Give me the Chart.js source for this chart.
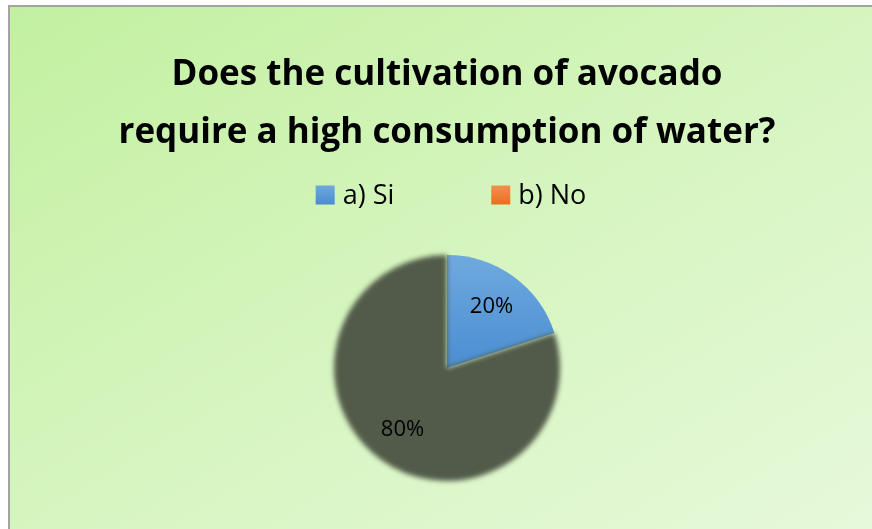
<!DOCTYPE html>
<html>
<head>
<meta charset="utf-8">
<script src="https://cdn.jsdelivr.net/npm/chart.js@4.4.0/dist/chart.umd.min.js"></script>
<style>
  html, body { margin: 0; padding: 0; width: 872px; height: 529px; overflow: hidden; background: #ffffff; }
  #frame {
    position: absolute; left: 8px; top: 5px; width: 900px; height: 540px;
    border-left: 2px solid #a3a3a3; border-top: 2px solid #a3a3a3;
    background: linear-gradient(to bottom right, #c2f0a0 0%, #d6f5c0 50%, #e8f9dc 100%);
  }
  #wrap { position: absolute; left: 0; top: 0; width: 874px; height: 522px; }
</style>
</head>
<body>
<div id="frame">
  <div id="wrap"><canvas id="pieChart"></canvas></div>
</div>
<script>
var titleLines = ['Does the cultivation of avocado', 'require a high consumption of water?'];
var categories = ['a) Si', 'b) No'];
var shares = [20, 80];
var legendColors = ['#5b9bd5', '#ed7d31'];

var FONT = '"Open Sans", Lato, sans-serif';

// blue slice gets a soft vertical gradient
function sliceFill(context) {
    var chart = context.chart;
    var area = chart.chartArea;
    if (!area) return '#5b9bd5';
    if (context.dataIndex === 0) {
        var g = chart.ctx.createLinearGradient(0, area.top, 0, area.top + (area.bottom - area.top) * 0.55);
        g.addColorStop(0, '#6fa9df');
        g.addColorStop(1, '#478bd0');
        return g;
    }
    return '#525b4a';
}

// legend drawn by hand so the item spacing can be wide
var wideLegend = {
    id: 'wideLegend',
    afterDraw: function (chart) {
        var ctx = chart.ctx;
        var box = 19, gapText = 8, gapItem = 97, y = 188;
        ctx.save();
        ctx.font = '27px ' + FONT;
        var widths = categories.map(function (c) { return box + gapText + ctx.measureText(c).width; });
        var total = widths.reduce(function (a, b) { return a + b; }, 0) + gapItem * (categories.length - 1);
        var x = chart.width / 2 - total / 2 + 4;
        ctx.textBaseline = 'middle';
        ctx.textAlign = 'left';
        categories.forEach(function (c, i) {
            var g = ctx.createLinearGradient(0, y - box / 2, 0, y + box / 2);
            g.addColorStop(0, i === 0 ? '#6fa9df' : '#f38f4f');
            g.addColorStop(1, i === 0 ? '#4a8bd0' : '#e96f20');
            ctx.fillStyle = g;
            ctx.fillRect(x, y - box / 2, box, box);
            ctx.fillStyle = '#000000';
            ctx.fillText(c, x + box + gapText, y + 1);
            x += widths[i] + gapItem;
        });
        ctx.restore();
    }
};

// percentage labels inside each slice
var sliceLabels = {
    id: 'sliceLabels',
    afterDatasetsDraw: function (chart) {
        var ctx = chart.ctx;
        var meta = chart.getDatasetMeta(0);
        var data = chart.data.datasets[0].data;
        var sum = data.reduce(function (a, b) { return a + b; }, 0);
        ctx.save();
        ctx.font = '22px ' + FONT;
        ctx.fillStyle = '#000000';
        ctx.textAlign = 'center';
        ctx.textBaseline = 'middle';
        meta.data.forEach(function (arc, i) {
            var p = arc.getProps(['x', 'y', 'startAngle', 'endAngle', 'outerRadius'], true);
            var mid = (p.startAngle + p.endAngle) / 2;
            var r = p.outerRadius * 0.67;
            ctx.fillText(Math.round(data[i] / sum * 100) + '%', p.x + Math.cos(mid) * r, p.y + Math.sin(mid) * r);
        });
        ctx.restore();
    }
};

var ctx = document.getElementById('pieChart').getContext('2d');
var chart = new Chart(ctx, {
    type: 'pie',
    data: {
        labels: categories,
        datasets: [{
            data: shares,
            backgroundColor: sliceFill,
            borderWidth: 0
        }]
    },
    options: {
        responsive: true,
        maintainAspectRatio: false,
        animation: false,
        layout: { padding: { top: 0, bottom: 48, left: 0, right: 0 } },
        plugins: {
            legend: { display: false },
            tooltip: { enabled: false },
            title: {
                display: true,
                text: titleLines,
                color: '#000000',
                font: { family: FONT, size: 35, weight: 'bold', lineHeight: 58 / 35 },
                padding: { top: 39, bottom: 93 }
            }
        }
    },
    plugins: [sliceLabels, wideLegend]
});

// the large slice is drawn with a soft, blurred edge
var darkArc = chart.getDatasetMeta(0).data[1];
var baseDraw = darkArc.draw;
darkArc.draw = function (c) {
    c.save();
    c.filter = 'blur(2.5px)';
    baseDraw.call(this, c);
    c.restore();
};
chart.draw();
</script>
</body>
</html>
